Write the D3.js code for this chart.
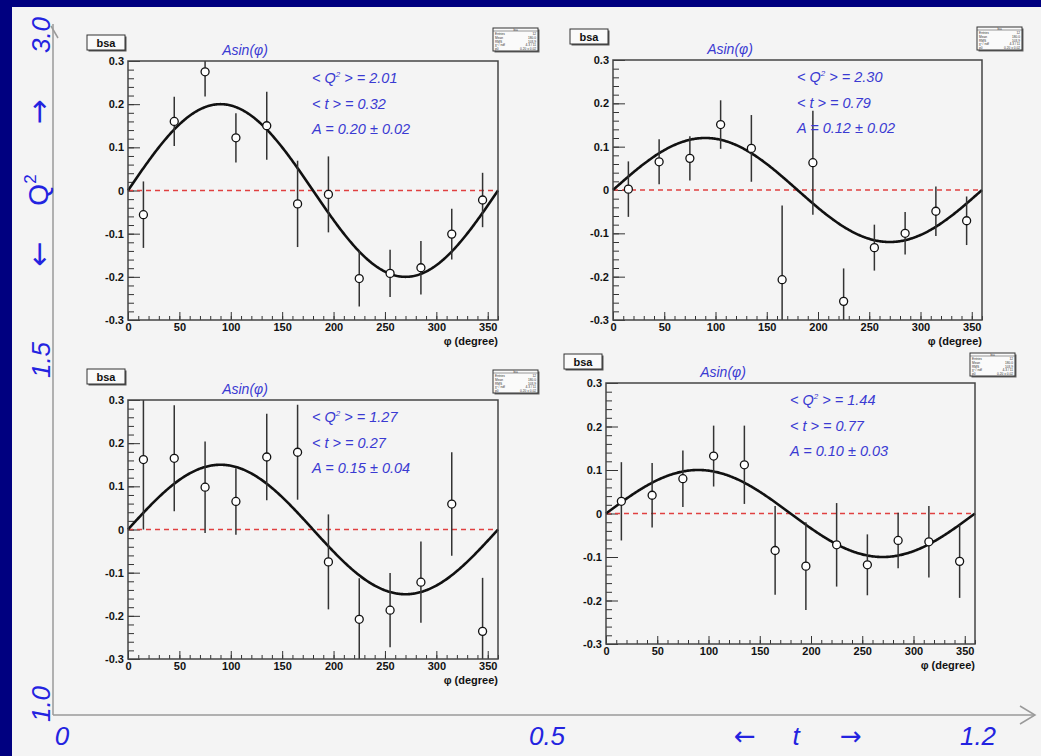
<!DOCTYPE html>
<html>
<head>
<meta charset="utf-8">
<script src="https://cdn.jsdelivr.net/npm/d3@7"></script>
<style>
  body { margin: 0; background: #000080; }
  svg { display: block; font-family: "Liberation Sans", Arial, sans-serif; }
</style>
</head>
<body>
<script>
// hoeken (phi bins) en de gemeten asymmetrieen per paneel
var hoeken = [15, 45, 75, 105, 135, 165, 195, 225, 255, 285, 315, 345];

var bsa1 = [-0.056, 0.160, 0.275, 0.122, 0.150, -0.031, -0.009, -0.204, -0.192, -0.179, -0.101, -0.022];
var fout1 = [0.077, 0.057, 0.057, 0.057, 0.079, 0.100, 0.088, 0.065, 0.055, 0.062, 0.059, 0.063];

var bsa2 = [0.002, 0.065, 0.073, 0.151, 0.096, -0.207, 0.063, -0.257, -0.133, -0.100, -0.049, -0.071];
var fout2 = [0.064, 0.052, 0.051, 0.056, 0.077, 0.171, 0.120, 0.076, 0.053, 0.049, 0.057, 0.056];

var bsa3 = [0.162, 0.165, 0.098, 0.065, 0.168, 0.179, -0.075, -0.208, -0.187, -0.122, 0.059, -0.236];
var fout3 = [0.162, 0.123, 0.106, 0.077, 0.100, 0.110, 0.110, 0.095, 0.086, 0.094, 0.120, 0.124];

var bsa4 = [0.028, 0.042, 0.080, 0.132, 0.112, -0.085, -0.121, -0.072, -0.118, -0.062, -0.065, -0.110];
var fout4 = [0.090, 0.074, 0.065, 0.070, 0.090, 0.102, 0.101, 0.096, 0.070, 0.064, 0.082, 0.084];

// fit resultaten en gemiddelde kinematica
var amplitudes = [0.20, 0.12, 0.15, 0.10];
var ampFout = ["0.02", "0.02", "0.04", "0.03"];
var gemQ2 = ["2.01", "2.30", "1.27", "1.44"];
var gemT = ["0.32", "0.79", "0.27", "0.77"];

// as labels
var yTicks = [-0.3, -0.2, -0.1, 0, 0.1, 0.2, 0.3];
var xTicks = [0, 50, 100, 150, 200, 250, 300, 350];
var q2Labels = ["3.0", "1.5", "1.0"];
var tLabels = ["0", "0.5", "1.2"];

var alleWaarden = [bsa1, bsa2, bsa3, bsa4];
var alleFouten = [fout1, fout2, fout3, fout4];

// plaats van de frames
var panelen = [
  {x: 128, y: 61, w: 370, h: 259, bsa: [87, 35], stat: [493, 28]},
  {x: 613, y: 60, w: 369, h: 260, bsa: [570, 29], stat: [977, 27]},
  {x: 128, y: 400, w: 370, h: 259, bsa: [87, 369], stat: [493, 370]},
  {x: 606, y: 383, w: 369, h: 261, bsa: [564, 354], stat: [970, 353]}
];

var breedte = 1041, hoogte = 756;
var blauw = "#2323e0";
var tekstBlauw = "#3a3ad2";

var svg = d3.select("body").append("svg")
    .attr("width", breedte)
    .attr("height", hoogte);

svg.append("rect").attr("width", breedte).attr("height", hoogte).attr("fill", "#000080");
svg.append("rect").attr("x", 12).attr("y", 7)
   .attr("width", breedte - 12).attr("height", hoogte - 7)
   .attr("fill", "#f4f4f4");

// grote assen (Q2 verticaal, t horizontaal)
svg.append("line").attr("x1", 53).attr("y1", 24).attr("x2", 53).attr("y2", 715)
   .attr("stroke", "#9a9a9a").attr("stroke-width", 1.5);
svg.append("line").attr("x1", 51).attr("y1", 26).attr("x2", 58).attr("y2", 38)
   .attr("stroke", "#9a9a9a").attr("stroke-width", 1.5);
svg.append("line").attr("x1", 53).attr("y1", 715).attr("x2", 1034).attr("y2", 715)
   .attr("stroke", "#9a9a9a").attr("stroke-width", 1.5);
svg.append("path").attr("d", "M1020,706 L1035,715 L1020,724")
   .attr("fill", "none").attr("stroke", "#9a9a9a").attr("stroke-width", 1.5);

// labels langs de Q2 as
var q2Pos = [35, 360, 704];
q2Labels.forEach(function(d, i) {
  svg.append("text")
     .attr("transform", "translate(50," + q2Pos[i] + ") rotate(-90)")
     .attr("text-anchor", "middle")
     .attr("font-size", 26).attr("font-style", "italic")
     .attr("fill", blauw).text(d);
});
svg.append("text").attr("transform", "translate(49,112) rotate(-90)")
   .attr("text-anchor", "middle").attr("font-family", "DejaVu Sans")
   .attr("font-size", 30).attr("fill", blauw).text("\u2192");
svg.append("text").attr("transform", "translate(49,254) rotate(-90)")
   .attr("text-anchor", "middle").attr("font-family", "DejaVu Sans")
   .attr("font-size", 30).attr("fill", blauw).text("\u2190");
var q2Tekst = svg.append("text").attr("transform", "translate(48,190) rotate(-90)")
   .attr("text-anchor", "middle").attr("font-size", 28).attr("fill", blauw);
q2Tekst.append("tspan").text("Q");
q2Tekst.append("tspan").attr("font-size", 17).attr("dy", -12).text("2");

// labels langs de t as
var tPos = [62, 547, 978];
tLabels.forEach(function(d, i) {
  svg.append("text").attr("x", tPos[i]).attr("y", 745)
     .attr("text-anchor", "middle")
     .attr("font-size", 26).attr("font-style", "italic")
     .attr("fill", blauw).text(d);
});
svg.append("text").attr("x", 745).attr("y", 745).attr("text-anchor", "middle")
   .attr("font-family", "DejaVu Sans")
   .attr("font-size", 26).attr("fill", blauw).text("\u2190");
svg.append("text").attr("x", 796).attr("y", 745).attr("text-anchor", "middle")
   .attr("font-size", 26).attr("font-style", "italic").attr("fill", blauw).text("t");
svg.append("text").attr("x", 851).attr("y", 745).attr("text-anchor", "middle")
   .attr("font-family", "DejaVu Sans")
   .attr("font-size", 26).attr("fill", blauw).text("\u2192");

panelen.forEach(function(p, i) {
  tekenPaneel(p, i, alleWaarden[i], alleFouten[i]);
});

function tekenPaneel(p, i, waarden, fouten) {
  var g = svg.append("g").attr("transform", "translate(" + p.x + "," + p.y + ")");

  var x = d3.scaleLinear().domain([0, 360]).range([0, p.w]);
  var y = d3.scaleLinear().domain([-0.3, 0.3]).range([p.h, 0]);

  var clipId = "clip" + i;
  g.append("clipPath").attr("id", clipId)
   .append("rect").attr("width", p.w).attr("height", p.h);

  // y as: grote en kleine streepjes naar binnen
  g.append("g")
   .attr("color", "#333")
   .call(d3.axisLeft(y).tickValues(y.ticks(30)).tickSize(-6).tickFormat(""))
   .call(function(a) { a.select(".domain").remove(); });
  g.append("g")
   .attr("color", "#333")
   .call(d3.axisLeft(y).tickValues(yTicks).tickSize(-12).tickPadding(4)
     .tickFormat(function(d) { return d === 0 ? "0" : d.toFixed(1); }))
   .call(function(a) {
     a.select(".domain").remove();
     a.selectAll("text").attr("font-size", 11).attr("font-weight", "bold")
      .attr("font-family", "Liberation Sans, Arial, sans-serif").attr("fill", "#111");
   });

  // x as
  g.append("g")
   .attr("transform", "translate(0," + p.h + ")")
   .attr("color", "#333")
   .call(d3.axisBottom(x).tickValues(x.ticks(36)).tickSize(-4).tickFormat(""))
   .call(function(a) { a.select(".domain").remove(); });
  g.append("g")
   .attr("transform", "translate(0," + p.h + ")")
   .attr("color", "#333")
   .call(d3.axisBottom(x).tickValues(xTicks).tickSize(-8).tickPadding(3))
   .call(function(a) {
     a.select(".domain").remove();
     a.selectAll("text").attr("font-size", 11).attr("font-weight", "bold")
      .attr("font-family", "Liberation Sans, Arial, sans-serif").attr("fill", "#111");
   });

  g.append("text")
   .attr("x", p.w).attr("y", p.h + 25)
   .attr("text-anchor", "end")
   .attr("font-size", 11).attr("font-weight", "bold").attr("fill", "#111")
   .text("\u03c6 (degree)");

  // nul lijn
  g.append("line")
   .attr("x1", 0).attr("x2", p.w).attr("y1", y(0)).attr("y2", y(0))
   .attr("stroke", "#e04040").attr("stroke-width", 1.5)
   .attr("stroke-dasharray", "5,4");

  // fit curve A sin(phi)
  var fit = d3.range(0, 361, 1);
  var lijn = d3.line()
      .x(function(d) { return x(d); })
      .y(function(d) { return y(amplitudes[i] * Math.sin(d * Math.PI / 180)); });
  g.append("path").datum(fit)
   .attr("d", lijn)
   .attr("fill", "none").attr("stroke", "#111").attr("stroke-width", 2.6);

  // foutbalken
  var punten = hoeken.map(function(h, k) { return {phi: h, v: waarden[k], e: fouten[k]}; });
  g.append("g").attr("clip-path", "url(#" + clipId + ")")
   .selectAll("line").data(punten).enter().append("line")
   .attr("x1", function(d) { return x(d.phi); })
   .attr("x2", function(d) { return x(d.phi); })
   .attr("y1", function(d) { return y(d.v - d.e); })
   .attr("y2", function(d) { return y(d.v + d.e); })
   .attr("stroke", "#333").attr("stroke-width", 1.5);

  g.selectAll("circle").data(punten).enter().append("circle")
   .attr("cx", function(d) { return x(d.phi); })
   .attr("cy", function(d) { return y(d.v); })
   .attr("r", 4)
   .attr("fill", "#fff").attr("stroke", "#111").attr("stroke-width", 1.3);

  // frame
  g.append("rect").attr("width", p.w).attr("height", p.h)
   .attr("fill", "none").attr("stroke", "#444").attr("stroke-width", 1.5);

  // titel
  g.append("text").attr("x", 117).attr("y", -6)
   .attr("text-anchor", "middle")
   .attr("font-size", 14).attr("font-style", "italic").attr("fill", tekstBlauw)
   .text("Asin(\u03c6)");

  // annotaties
  var t1 = g.append("text").attr("x", 184).attr("y", 22)
   .attr("font-size", 14.5).attr("font-style", "italic").attr("fill", tekstBlauw);
  t1.append("tspan").text("< Q");
  t1.append("tspan").attr("font-size", 8).attr("dy", -6).text("2");
  t1.append("tspan").attr("dy", 6).text(" > = " + gemQ2[i]);
  g.append("text").attr("x", 184).attr("y", 48)
   .attr("font-size", 14.5).attr("font-style", "italic").attr("fill", tekstBlauw)
   .text("< t > = " + gemT[i]);
  g.append("text").attr("x", 184).attr("y", 73)
   .attr("font-size", 14.5).attr("font-style", "italic").attr("fill", tekstBlauw)
   .text("A = " + amplitudes[i].toFixed(2) + " \u00b1 " + ampFout[i]);

  // bsa label
  var b = svg.append("g").attr("transform", "translate(" + p.bsa[0] + "," + p.bsa[1] + ")");
  b.append("rect").attr("x", 1.5).attr("y", 1.5).attr("width", 38).attr("height", 15).attr("fill", "#555");
  b.append("rect").attr("width", 38).attr("height", 15)
   .attr("fill", "#fafafa").attr("stroke", "#333").attr("stroke-width", 1);
  b.append("text").attr("x", 19).attr("y", 11.5).attr("text-anchor", "middle")
   .attr("font-size", 11).attr("font-weight", "bold").attr("fill", "#111").text("bsa");

  // klein statistiek kader
  var s = svg.append("g").attr("transform", "translate(" + p.stat[0] + "," + p.stat[1] + ")");
  s.append("rect").attr("x", 1.5).attr("y", 1.5).attr("width", 45).attr("height", 23).attr("fill", "#666");
  s.append("rect").attr("width", 45).attr("height", 23)
   .attr("fill", "#fafafa").attr("stroke", "#333").attr("stroke-width", 1);
  s.append("line").attr("x1", 0).attr("x2", 45).attr("y1", 3).attr("y2", 3).attr("stroke", "#555").attr("stroke-width", 0.6);
  var regels = ["Entries", "Mean", "RMS", "\u03c7\u00b2 / ndf", "p0"];
  var rechts = ["12", "180.0", "103.9", "4.3 / 11", "0.20 \u00b1 0.02"];
  regels.forEach(function(r, k) {
    s.append("text").attr("x", 2).attr("y", 7 + k * 3.8)
     .attr("font-size", 3.2).attr("fill", "#333").text(r);
    s.append("text").attr("x", 43).attr("y", 7 + k * 3.8).attr("text-anchor", "end")
     .attr("font-size", 3.2).attr("fill", "#333").text(rechts[k]);
  });
  s.append("text").attr("x", 22.5).attr("y", 2.6).attr("text-anchor", "middle")
   .attr("font-size", 2.6).attr("fill", "#333").text("bsa");
}
</script>
</body>
</html>
